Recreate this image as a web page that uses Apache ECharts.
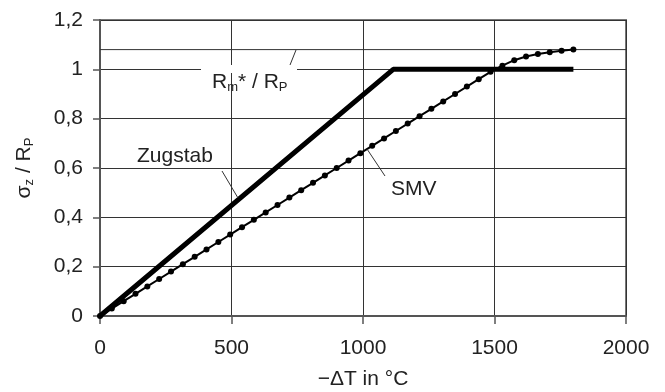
<!DOCTYPE html>
<html>
<head>
<meta charset="utf-8">
<script src="https://cdn.jsdelivr.net/npm/echarts@6/dist/echarts.min.js"></script>
<style>
  html, body { margin: 0; padding: 0; background: #fff; }
  #chart { width: 665px; height: 392px; }
</style>
</head>
<body>
<div id="chart"></div>
<script>
// x values (−ΔT in °C) and σz/RP for the SMV simulation
const smvX = [0, 45, 90, 135, 180, 225, 270, 315, 360, 405, 450, 495, 540, 585, 630, 675, 720, 765, 810, 855,
  900, 945, 990, 1035, 1080, 1125, 1170, 1215, 1260, 1305, 1350, 1395, 1440, 1485, 1530, 1575, 1620, 1665, 1710, 1755, 1800];
const smvY = [0, 0.03, 0.06, 0.09, 0.12, 0.15, 0.18, 0.21, 0.24, 0.27, 0.30, 0.33, 0.36, 0.39, 0.42, 0.45, 0.48, 0.51, 0.54, 0.57,
  0.60, 0.63, 0.66, 0.69, 0.72, 0.75, 0.78, 0.81, 0.84, 0.87, 0.90, 0.93, 0.96, 0.99, 1.015, 1.037, 1.052, 1.062, 1.069, 1.075, 1.08];

// Zugstab (tension bar) reference
const barX = [0, 1115, 1800];
const barY = [0, 1, 1];

// Rm*/RP level
const rmRatio = 1.08;
const xRange = [0, 2000];

const font = 'Liberation Sans, Arial, sans-serif';
const chart = echarts.init(document.getElementById('chart'));

chart.setOption({
  backgroundColor: '#fff',
  animation: false,
  textStyle: { fontFamily: font },
  grid: {
    left: 100, right: 39, top: 20, bottom: 76,
    containLabel: false, outerBoundsMode: 'none',
    show: true, borderColor: '#777', borderWidth: 2
  },
  xAxis: {
    type: 'value', min: 0, max: 2000, interval: 500,
    name: '\u2212\u0394T in \u00b0C',
    nameLocation: 'middle', nameGap: 53,
    nameTextStyle: { fontSize: 21, color: '#222', fontFamily: font },
    axisLine: { lineStyle: { color: '#555', width: 2 } },
    axisTick: { show: true, length: 8, lineStyle: { color: '#555', width: 1.5 } },
    axisLabel: { fontSize: 21, color: '#222', margin: 22, fontFamily: font, formatter: v => String(v) },
    splitLine: { show: true, lineStyle: { color: '#333', width: 1 } }
  },
  yAxis: {
    type: 'value', min: 0, max: 1.2, interval: 0.2,
    name: '{a|\u03c3}{s|z}{a| / R}{s|P}',
    nameLocation: 'middle', nameGap: 64, nameRotate: 90,
    nameTextStyle: {
      rich: {
        a: { fontSize: 21, color: '#222', fontFamily: font },
        s: { fontSize: 13, color: '#222', fontFamily: font, padding: [10, 0, 0, 0] }
      }
    },
    axisLine: { show: true, lineStyle: { color: '#555', width: 2 } },
    axisTick: { show: true, length: 7, lineStyle: { color: '#555', width: 1.5 } },
    axisLabel: {
      fontSize: 21, color: '#222', margin: 17, fontFamily: font,
      formatter: v => String(+v.toFixed(1)).replace('.', ',')
    },
    splitLine: { show: true, lineStyle: { color: '#333', width: 1 } }
  },
  series: [
    {
      name: 'Rm*/RP', type: 'line', silent: true, symbol: 'none',
      lineStyle: { color: '#333', width: 1 },
      data: xRange.map(x => [x, rmRatio]),
      z: 1
    },
    {
      name: 'Zugstab', type: 'line', symbol: 'none',
      lineStyle: { color: '#000', width: 5 },
      data: barX.map((x, i) => [x, barY[i]]),
      z: 3
    },
    {
      name: 'SMV', type: 'line', symbol: 'circle', symbolSize: 6,
      itemStyle: { color: '#000' },
      lineStyle: { color: '#000', width: 2 },
      data: smvX.map((x, i) => [x, smvY[i]]),
      z: 4
    }
  ],
  graphic: [
    // gap in the y=1 grid line behind the Rm*/RP label
    { type: 'rect', z: 50, shape: { x: 201, y: 65, width: 96, height: 8 }, style: { fill: '#fff' } },
    {
      type: 'text', z: 60, left: 212, top: 72,
      style: {
        text: '{a|R}{s|m}{a|* / R}{s|P}',
        rich: {
          a: { fontSize: 21, fill: '#222', fontFamily: font },
          s: { fontSize: 13, fill: '#222', fontFamily: font, padding: [10, 0, 0, 0] }
        }
      }
    },
    { type: 'line', z: 60, shape: { x1: 290, y1: 65, x2: 296, y2: 50 }, style: { stroke: '#333', lineWidth: 1 } },
    {
      type: 'text', z: 60, left: 137, top: 146,
      style: { text: 'Zugstab', fontSize: 21, fill: '#222', fontFamily: font }
    },
    { type: 'line', z: 60, shape: { x1: 222, y1: 171, x2: 238, y2: 198 }, style: { stroke: '#333', lineWidth: 1 } },
    {
      type: 'text', z: 60, left: 391, top: 179,
      style: { text: 'SMV', fontSize: 21, fill: '#222', fontFamily: font }
    },
    { type: 'line', z: 60, shape: { x1: 385, y1: 176, x2: 367, y2: 149 }, style: { stroke: '#333', lineWidth: 1 } }
  ]
});
</script>
</body>
</html>
